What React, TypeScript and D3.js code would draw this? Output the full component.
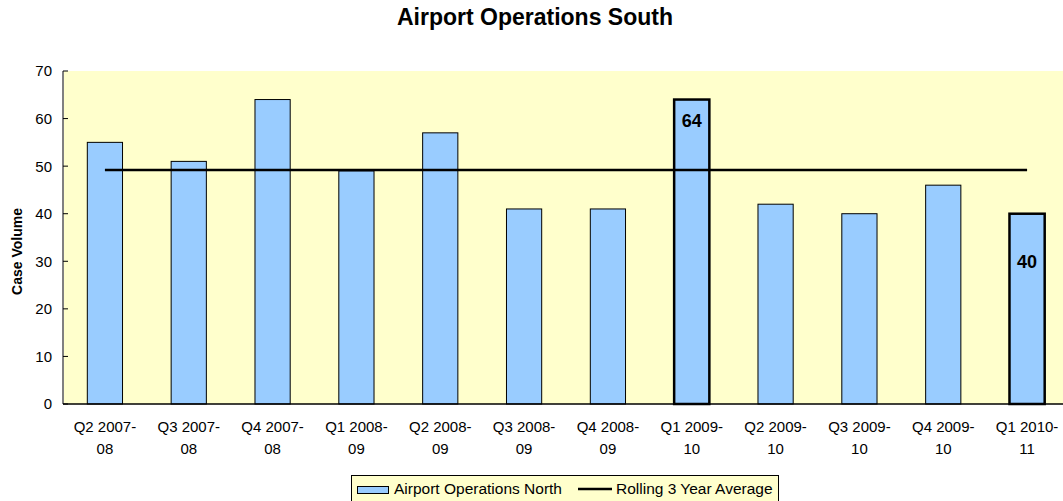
import React from "react";
import * as d3 from "d3";

const categories: string[][] = [
  ["Q2 2007-", "08"],
  ["Q3 2007-", "08"],
  ["Q4 2007-", "08"],
  ["Q1 2008-", "09"],
  ["Q2 2008-", "09"],
  ["Q3 2008-", "09"],
  ["Q4 2008-", "09"],
  ["Q1 2009-", "10"],
  ["Q2 2009-", "10"],
  ["Q3 2009-", "10"],
  ["Q4 2009-", "10"],
  ["Q1 2010-", "11"],
];
const northValues = [55, 51, 64, 49, 57, 41, 41, 64, 42, 40, 46, 40];
const rollingAverage = [49.2, 49.2, 49.2, 49.2, 49.2, 49.2, 49.2, 49.2, 49.2, 49.2, 49.2, 49.2];
const highlighted = [7, 11];
const yTicks = [0, 10, 20, 30, 40, 50, 60, 70];

const W = 1063;
const H = 501;
const FONT = "'Liberation Sans', Arial, sans-serif";

export default function App() {
  const left = 63;
  const right = 1069;
  const top = 71;
  const bottom = 404;
  const keys = categories.map((c) => c.join(""));
  const x = d3.scaleBand<string>().domain(keys).range([left, right]).paddingInner(0.58).paddingOuter(0.29);
  const y = d3.scaleLinear().domain([0, 70]).range([bottom, top]);
  const line = d3
    .line<number>()
    .x((_, i) => (x(keys[i]) as number) + x.bandwidth() / 2)
    .y((d) => y(d));

  // label centres (in value units) for highlighted bars
  const labelCenter: Record<number, number> = { 7: 59.5, 11: 29.9 };

  return (
    <svg width={W} height={H} style={{ position: "absolute", left: 0, top: 0, fontFamily: FONT }}>
      <rect x={0} y={0} width={W} height={H} fill="#fff" />
      <text x={535} y={25} textAnchor="middle" fontSize={23} fontWeight="bold" fill="#000">
        Airport Operations South
      </text>
      <rect x={left} y={top} width={right - left} height={bottom - top} fill="#FFFFCC" />
      {northValues.map((v, i) => {
        const hl = highlighted.includes(i);
        return (
          <rect
            key={i}
            x={x(keys[i])}
            y={y(v)}
            width={x.bandwidth()}
            height={bottom - y(v)}
            fill="#99CCFF"
            stroke="#000"
            strokeWidth={hl ? 2.5 : 1}
          />
        );
      })}
      <path d={line(rollingAverage) || ""} fill="none" stroke="#000" strokeWidth={2.5} />
      {highlighted.map((i) => (
        <text
          key={i}
          x={(x(keys[i]) as number) + x.bandwidth() / 2}
          y={y(labelCenter[i])}
          dy="0.36em"
          textAnchor="middle"
          fontSize={18}
          fontWeight="bold"
          fill="#000"
        >
          {northValues[i]}
        </text>
      ))}
      {/* y axis */}
      <line x1={left} x2={left} y1={top} y2={bottom} stroke="#808080" strokeWidth={2} />
      {yTicks.map((t) => (
        <g key={t}>
          <line x1={left} x2={left + 5} y1={y(t)} y2={y(t)} stroke="#000" strokeWidth={1} />
          <text x={52} y={y(t)} dy="0.36em" textAnchor="end" fontSize={15} fill="#000">
            {t}
          </text>
        </g>
      ))}
      {/* x axis */}
      <line x1={left} x2={right} y1={bottom} y2={bottom} stroke="#000" strokeWidth={1.5} />
      {categories.map((c, i) => (
        <text
          key={i}
          x={(x(keys[i]) as number) + x.bandwidth() / 2}
          y={432}
          textAnchor="middle"
          fontSize={15}
          fill="#000"
        >
          <tspan x={(x(keys[i]) as number) + x.bandwidth() / 2}>{c[0]}</tspan>
          <tspan x={(x(keys[i]) as number) + x.bandwidth() / 2} dy={21.5}>
            {c[1]}
          </tspan>
        </text>
      ))}
      <text
        transform={`translate(22,${(top + bottom) / 2 + 14}) rotate(-90)`}
        textAnchor="middle"
        fontSize={14}
        fontWeight="bold"
        fill="#000"
      >
        Case Volume
      </text>
      {/* legend */}
      <rect x={351.5} y={475.5} width={427} height={30} fill="#FFFFCC" stroke="#000" strokeWidth={1} />
      <rect x={357.5} y={486.5} width={31} height={7} fill="#99CCFF" stroke="#000" strokeWidth={1} />
      <text x={394} y={494} fontSize={15.5} fill="#000">
        Airport Operations North
      </text>
      <line x1={578} x2={612} y1={489} y2={489} stroke="#000" strokeWidth={2.5} />
      <text x={616} y={494} fontSize={15.5} fill="#000">
        Rolling 3 Year Average
      </text>
    </svg>
  );
}
